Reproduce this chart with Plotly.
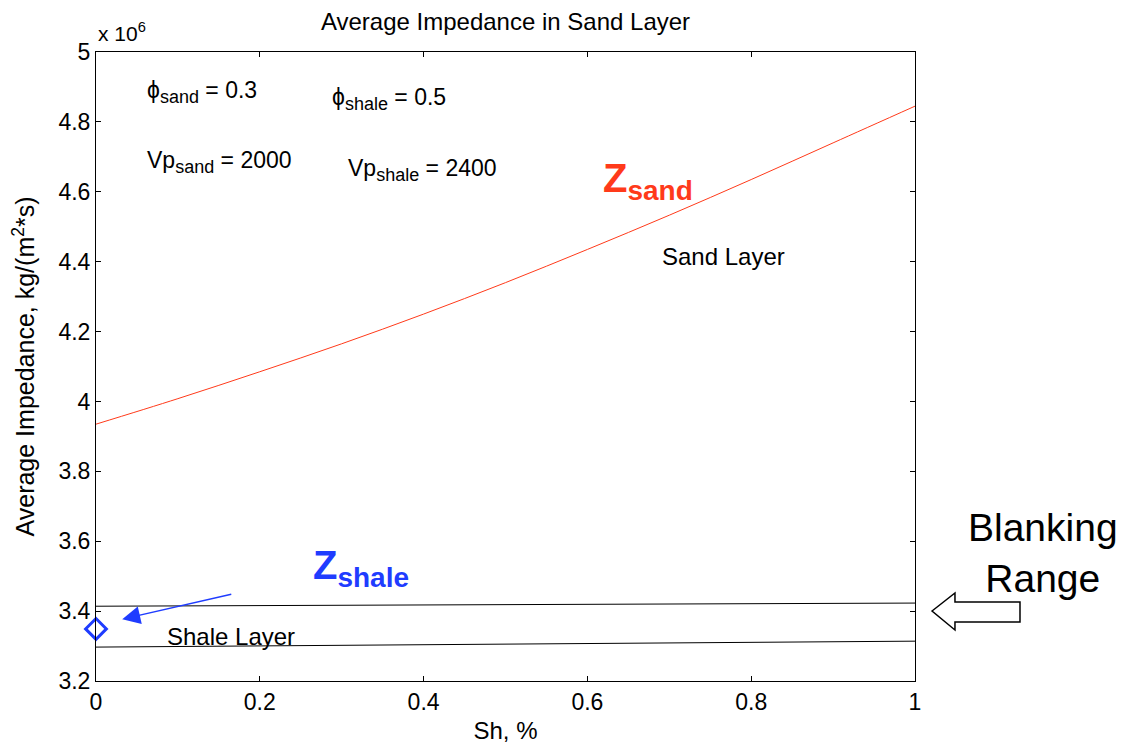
import plotly.graph_objects as go

# Shale volume fraction (x axis)
sh = [0.0, 0.1, 0.2, 0.3, 0.4, 0.5, 0.6, 0.7, 0.8, 0.9, 1.0]

# Average impedance of the sand layer, in units of 1e6 kg/(m^2*s)
z_sand = [3.935, 4.008, 4.085, 4.165, 4.250, 4.340, 4.435, 4.533, 4.635, 4.740, 4.845]

# Bounds of the shale-layer blanking band, in units of 1e6 kg/(m^2*s)
sh_band = [0.0, 1.0]
z_band_upper = [3.414, 3.423]
z_band_lower = [3.297, 3.314]

# Shale impedance point
sh_shale = [0.0]
z_shale = [3.349]

FONT = "Liberation Sans, Arial, Helvetica, sans-serif"
RED = "#ff3a1a"
BLUE = "#1f3cff"


def sub(s, size=18):
    """Subscript drawn a little smaller than the base text."""
    return f'<sub><span style="font-size:{size}px">{s}</span></sub>'


fig = go.Figure()

fig.add_trace(go.Scatter(x=sh, y=z_sand, mode="lines", line=dict(color=RED, width=1, shape="spline"),
                         showlegend=False, hoverinfo="skip"))
fig.add_trace(go.Scatter(x=sh_band, y=z_band_upper, mode="lines", line=dict(color="black", width=1),
                         showlegend=False, hoverinfo="skip"))
fig.add_trace(go.Scatter(x=sh_band, y=z_band_lower, mode="lines", line=dict(color="black", width=1),
                         showlegend=False, hoverinfo="skip"))
fig.add_trace(go.Scatter(x=sh_shale, y=z_shale, mode="markers",
                         marker=dict(symbol="diamond-open", size=16, color=BLUE, line=dict(color=BLUE, width=3)),
                         cliponaxis=False, showlegend=False, hoverinfo="skip"))

PHI = "\u03d5"
params = [
    (0.06, 4.885, f"{PHI}{sub('sand')} = 0.3"),
    (0.286, 4.866, f"{PHI}{sub('shale')} = 0.5"),
    (0.06, 4.686, f"Vp{sub('sand')} = 2000"),
    (0.305, 4.663, f"Vp{sub('shale')} = 2400"),
]
layers = [
    (0.689, 4.416, "Sand Layer"),
    (0.084, 3.326, "Shale Layer"),
]
annotations = []
for x, y, t in params:
    annotations.append(dict(x=x, y=y, xref="x", yref="y", text=t, showarrow=False,
                            xanchor="left", yanchor="middle",
                            font=dict(color="black", size=23, family=FONT)))
for x, y, t in layers:
    annotations.append(dict(x=x, y=y, xref="x", yref="y", text=t, showarrow=False,
                            xanchor="left", yanchor="middle",
                            font=dict(color="black", size=24, family=FONT)))

# Coloured impedance labels
annotations.append(dict(x=0.617, y=4.63, xref="x", yref="y", showarrow=False, xanchor="left", yanchor="middle",
                        text="<b>Z<sub>sand</sub></b>", font=dict(color=RED, size=40, family=FONT)))
annotations.append(dict(x=0.262, y=3.522, xref="x", yref="y", showarrow=False, xanchor="left", yanchor="middle",
                        text="<b>Z<sub>shale</sub></b>", font=dict(color=BLUE, size=40, family=FONT)))

# Arrow pointing to the shale impedance point
annotations.append(dict(x=0.032, y=3.377, xref="x", yref="y", ax=0.167, ay=3.449, axref="x", ayref="y",
                        text="", showarrow=True, arrowhead=2, arrowsize=2.4, arrowwidth=1.5,
                        arrowcolor=BLUE))

# Axis multiplier
annotations.append(dict(x=0.0, y=1.0, xref="paper", yref="paper", xanchor="left", yanchor="bottom",
                        yshift=5, showarrow=False, text="x 10<sup>6</sup>",
                        font=dict(color="black", size=21, family=FONT)))

# Side label
annotations.append(dict(x=1.1563, y=0.2035, xref="paper", yref="paper", xanchor="center", yanchor="middle",
                        showarrow=False, text="Blanking<br>Range", align="center",
                        font=dict(color="black", size=39, family=FONT)))

# Hollow block arrow beside the blanking band
block_arrow = ("M 1.0208,0.1113 L 1.0488,0.1399 L 1.0488,0.1256 L 1.1282,0.1256 "
               "L 1.1282,0.0938 L 1.0488,0.0938 L 1.0488,0.0811 Z")

axis_common = dict(showline=True, linecolor="black", linewidth=1, mirror="ticks", ticks="inside",
                   ticklen=5, tickcolor="black", tickwidth=1, showgrid=False, zeroline=False,
                   automargin=False, tickfont=dict(color="black", size=23, family=FONT))

fig.update_layout(
    width=1127, height=744,
    margin=dict(l=96, r=212, t=52, b=63),
    paper_bgcolor="white", plot_bgcolor="white",
    title=dict(text="Average Impedance in Sand Layer", x=0.5, xref="paper", xanchor="center",
               y=1 - 22 / 744, yref="container", yanchor="middle",
               font=dict(color="black", size=24, family=FONT)),
    xaxis=dict(range=[0, 1], tickvals=[0, 0.2, 0.4, 0.6, 0.8, 1],
               ticktext=["0", "0.2", "0.4", "0.6", "0.8", "1"],
               title=dict(text="Sh, %", font=dict(color="black", size=24, family=FONT), standoff=12),
               **axis_common),
    yaxis=dict(range=[3.2, 5], tickvals=[3.2, 3.4, 3.6, 3.8, 4, 4.2, 4.4, 4.6, 4.8, 5],
               ticktext=["3.2", "3.4", "3.6", "3.8", "4", "4.2", "4.4", "4.6", "4.8", "5"],
               title=dict(text="Average Impedance, kg/(m<sup>2</sup>*s)",
                          font=dict(color="black", size=25, family=FONT), standoff=16),
               **axis_common),
    annotations=annotations,
    shapes=[dict(type="path", path=block_arrow, xref="paper", yref="paper",
                 fillcolor="white", line=dict(color="black", width=1.5), layer="above")],
)

fig.write_html("out.html")
